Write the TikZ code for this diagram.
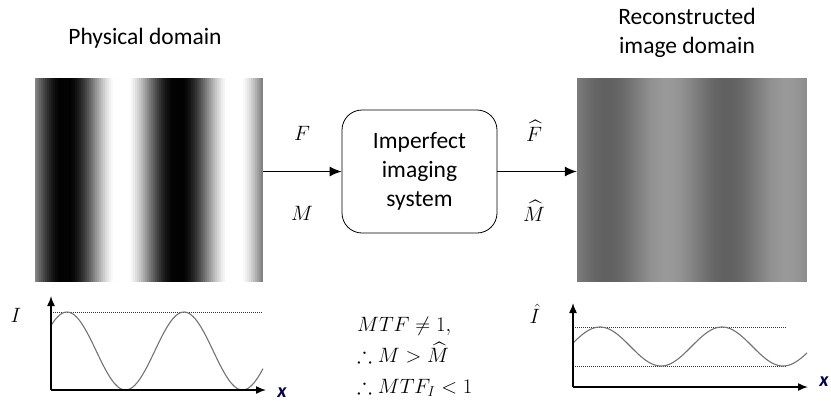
\documentclass[tikz,border=0pt]{standalone}
\usepackage{amsmath,amssymb}
\usepackage{fontspec}
\setsansfont{Carlito}
\usetikzlibrary{arrows.meta,positioning}

\begin{document}
\begin{tikzpicture}[x=1pt,y=-1pt,
  lbl/.style={font=\sffamily\fontsize{23.5}{29}\selectfont, align=center},
  sysbox/.style={draw, rounded corners=20pt, line width=0.8pt, minimum width=155pt, minimum height=123pt, inner sep=0pt, lbl},
  mlbl/.style={font=\fontsize{22.5}{31}\selectfont, inner sep=1pt},
  frame/.style={minimum width=#1, minimum height=204pt, inner sep=0pt},
  flow/.style={line width=1.2pt, -{Latex[length=12pt,width=10pt]}},
  axis/.style={line width=1.5pt, -{Latex[length=10pt,width=8pt]}},
  wave/.style={black!55, line width=1.1pt},
  level/.style={dash pattern=on 1pt off 1pt, line width=1pt, black!80},
  xlbl/.style={font=\sffamily\bfseries\itshape\fontsize{20}{22}\selectfont, text=black!70!blue}]
\useasboundingbox (0,0) rectangle (831,408);

% the two images
\node[frame=228pt] (phys) at (149,180) {};
\node[frame=230pt] (recon) at (692,180) {};
\foreach \x in {35,37,...,261}{
  \pgfmathsetmacro\g{100*(max(0.01,min(1,0.52-0.53*cos((\x+1-65)/113*360))))^1.1}
  \fill[white!\g!black] (\x,78) rectangle (\x+2.3,282);
}
\foreach \x in {577,579,...,805}{
  \pgfmathsetmacro\g{100*(0.49-0.11*cos((\x+1-607)/120*360))}
  \fill[white!\g!black] (\x,78) rectangle (\x+2.3,282);
}

\node[lbl] (ptitle) at (145,38) {Physical domain};
\node[lbl] (rtitle) at (687,33) {Reconstructed\\image domain};

% system
\node[sysbox] (sys) at (419.5,171.5) {Imperfect\\imaging\\system};
\draw[flow] (phys.east |- sys.west) -- (sys.west);
\draw[flow] (sys.east) -- (recon.west |- sys.east);
\node[mlbl] (fin) at (302,133) {$F$};
\node[mlbl] (min) at (302,213) {$M$};
\node[mlbl] (fout) at (534,131) {$\widehat{F}$};
\node[mlbl] (mout) at (534,211) {$\widehat{M}$};

% input profile
\coordinate (o1) at (51,390);
\coordinate (y1) at (51,296);
\coordinate (x1) at (266,390);
\draw[level] (51,312) -- (262,312);
\draw[wave] plot[domain=51:263, samples=120] (\x, {351-39*cos((\x-67)/117*360)});
\draw[axis] (o1) -- (y1);
\draw[axis] (o1) -- (x1);
\node[mlbl] (ilbl) at (16,315) {$I$};
\node[xlbl] (xa) at (282,393) {x};

% output profile
\coordinate (o2) at (573,387);
\coordinate (y2) at (573,303);
\coordinate (x2) at (808,387);
\draw[level] (573,327) -- (787,327);
\draw[level] (573,366) -- (787,366);
\draw[wave] plot[domain=573:807, samples=120] (\x, {346.5-19.5*cos((\x-600)/122*360)});
\draw[axis] (o2) -- (y2);
\draw[axis] (o2) -- (x2);
\node[mlbl] (ihat) at (535,314) {$\hat{I}$};
\node[xlbl] (xb) at (824,382) {x};

% conclusion
\node[mlbl, align=left, anchor=west] (mtf) at (356,357) {$MTF \neq 1,$\\$\therefore M > \widehat{M}$\\$\therefore MTF_I < 1$};
\end{tikzpicture}
\end{document}
